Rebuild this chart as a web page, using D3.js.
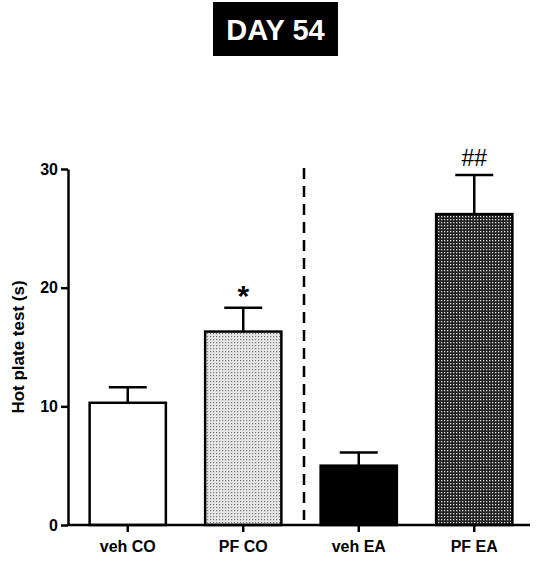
<!DOCTYPE html>
<html><head><meta charset="utf-8">
<script src="https://cdn.jsdelivr.net/npm/d3@7"></script>
<style>body{margin:0;background:#fff;font-family:Arial,"Liberation Sans",sans-serif;}</style>
</head><body><svg id="chart" width="545" height="563"></svg>
<script>
const groups = ["veh CO", "PF CO", "veh EA", "PF EA"];
const means = [10.3, 16.3, 5.0, 26.2];
const sems = [1.3, 2.0, 1.1, 3.3];
const marks = ["", "*", "", "##"];
const yTicks = [0, 10, 20, 30];

const svg = d3.select("#chart");
const defs = svg.append("defs");
const light = defs.append("pattern").attr("id", "light").attr("width", 3).attr("height", 3).attr("patternUnits", "userSpaceOnUse");
light.append("rect").attr("width", 3).attr("height", 3).attr("fill", "#e6e6e6");
light.append("rect").attr("width", 1.2).attr("height", 1.2).attr("fill", "#777");
const dark = defs.append("pattern").attr("id", "dark").attr("width", 3).attr("height", 3).attr("patternUnits", "userSpaceOnUse");
dark.append("rect").attr("width", 3).attr("height", 3).attr("fill", "#222");
dark.append("rect").attr("width", 1.3).attr("height", 1.3).attr("fill", "#ddd");
const fills = ["#fff", "url(#light)", "#000", "url(#dark)"];

// title box
svg.append("rect").attr("x", 213).attr("y", 2).attr("width", 125).attr("height", 54).attr("fill", "#000");
svg.append("text").attr("x", 275.5).attr("y", 40).attr("text-anchor", "middle")
  .attr("fill", "#fff").attr("font-size", 29).attr("font-weight", "bold").text("DAY 54");

const x = d3.scaleBand().domain(groups).range([70, 532]).paddingInner(0.34).paddingOuter(0.17);
const y = d3.scaleLinear().domain([0, 30]).range([525, 169]);

const g = svg.append("g");
g.selectAll(".err").data(groups).join("g").each(function(d, i) {
  const cx = x(d) + x.bandwidth() / 2, sel = d3.select(this);
  sel.append("line").attr("x1", cx).attr("x2", cx).attr("y1", y(means[i])).attr("y2", y(means[i] + sems[i])).attr("stroke", "#000").attr("stroke-width", 2.5);
  sel.append("line").attr("x1", cx - 19).attr("x2", cx + 19).attr("y1", y(means[i] + sems[i])).attr("y2", y(means[i] + sems[i])).attr("stroke", "#000").attr("stroke-width", 2.5);
  if (marks[i]) sel.append("text").attr("x", cx).attr("y", y(means[i] + sems[i]) - (marks[i] === "*" ? 2 : 9))
    .attr("text-anchor", "middle").attr("font-size", marks[i] === "*" ? 30 : 23).attr("font-weight", marks[i] === "*" ? "bold" : "normal").text(marks[i]);
});
g.selectAll(".bar").data(groups).join("rect")
  .attr("x", d => x(d)).attr("width", x.bandwidth())
  .attr("y", (d, i) => y(means[i])).attr("height", (d, i) => y(0) - y(means[i]))
  .attr("fill", (d, i) => fills[i]).attr("stroke", "#000").attr("stroke-width", 2.5);

// dashed separator
svg.append("line").attr("x1", 304).attr("x2", 304).attr("y1", 168).attr("y2", 520)
  .attr("stroke", "#000").attr("stroke-width", 2.5).attr("stroke-dasharray", "11,7");

const xa = svg.append("g").attr("transform", "translate(0,525)")
  .call(d3.axisBottom(x).tickSize(7).tickSizeOuter(0));
xa.select(".domain").attr("d", "M68,0H530").attr("stroke-width", 2.5);
xa.selectAll("line").attr("stroke-width", 2.5);
xa.selectAll("text").attr("font-size", 16).attr("font-weight", "bold").attr("font-family", "Arial,Liberation Sans").attr("dy", "1.05em");

const ya = svg.append("g").attr("transform", "translate(68,0)")
  .call(d3.axisLeft(y).tickValues(yTicks).tickSize(7).tickSizeOuter(0));
ya.select(".domain").attr("stroke-width", 2.5);
ya.selectAll("line").attr("stroke-width", 2.5);
ya.selectAll("text").attr("font-size", 16).attr("font-weight", "bold").attr("font-family", "Arial,Liberation Sans");

svg.append("text").attr("transform", "translate(24,347) rotate(-90)").attr("text-anchor", "middle")
  .attr("font-size", 17).attr("font-weight", "bold").text("Hot plate test (s)");
</script></body></html>
